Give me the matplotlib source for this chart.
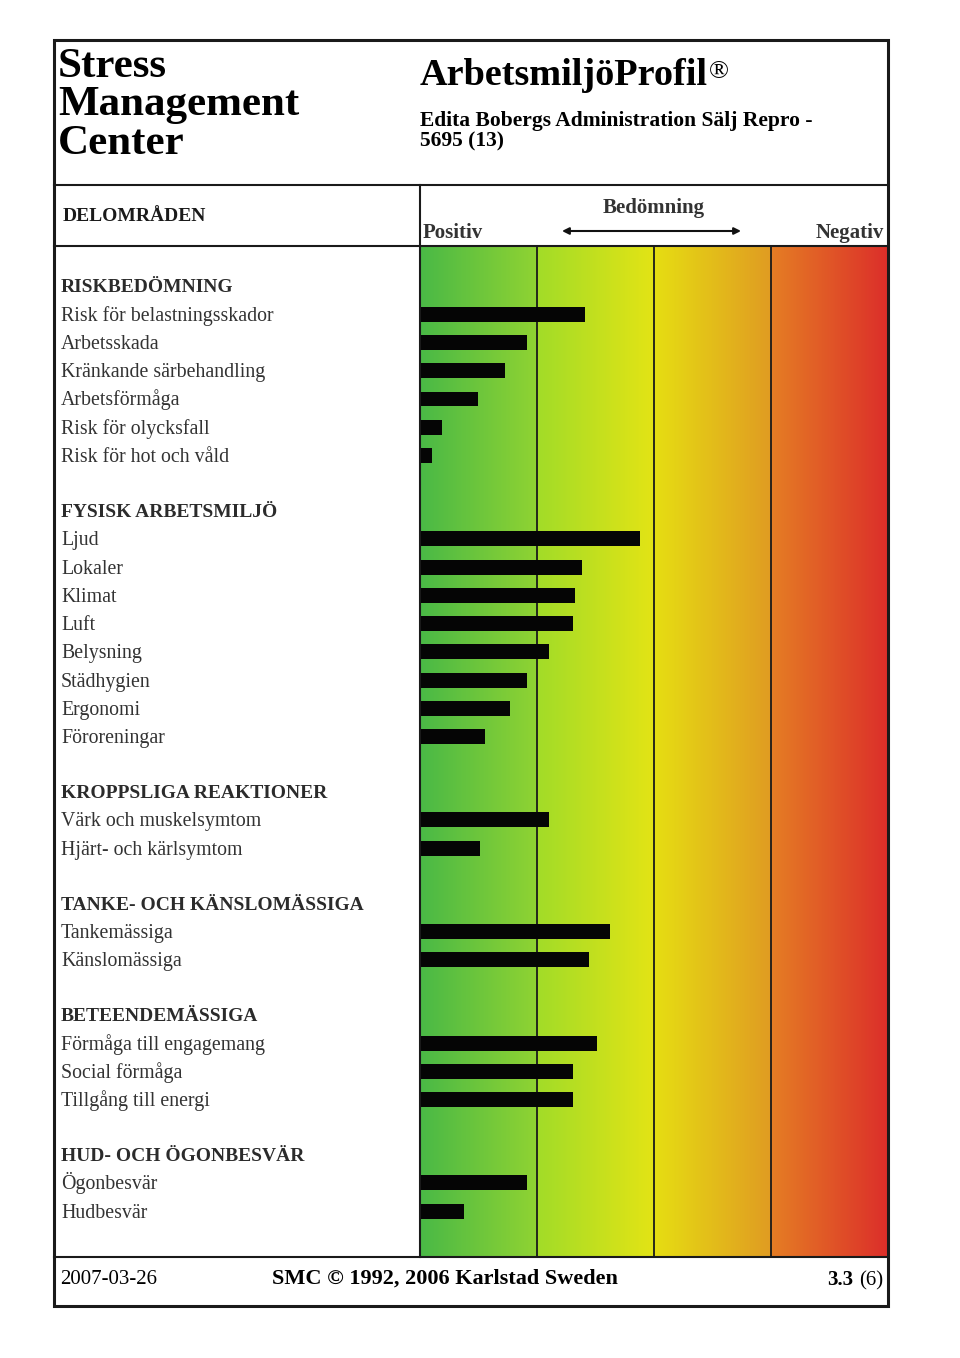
import numpy as np
import matplotlib
matplotlib.use("Agg")
import matplotlib.pyplot as plt
from matplotlib import transforms
from matplotlib.colors import LinearSegmentedColormap
from matplotlib.patches import Rectangle

plt.rcParams['font.family'] = ['Liberation Serif', 'DejaVu Serif']

# --- data (bar lengths in % of the scale, 0 = Positiv, 100 = Negativ) ---
section_titles = ["RISKBEDÖMNING", "FYSISK ARBETSMILJÖ", "KROPPSLIGA REAKTIONER",
                  "TANKE- OCH KÄNSLOMÄSSIGA", "BETEENDEMÄSSIGA", "HUD- OCH ÖGONBESVÄR"]

risk_labels = ["Risk för belastningsskador", "Arbetsskada", "Kränkande särbehandling",
               "Arbetsförmåga", "Risk för olycksfall", "Risk för hot och våld"]
risk_values = [35.3, 22.9, 18.2, 12.3, 4.8, 2.6]

fysisk_labels = ["Ljud", "Lokaler", "Klimat", "Luft", "Belysning", "Städhygien",
                 "Ergonomi", "Föroreningar"]
fysisk_values = [47.0, 34.6, 33.1, 32.6, 27.5, 22.9, 19.2, 13.9]

kropp_labels = ["Värk och muskelsymtom", "Hjärt- och kärlsymtom"]
kropp_values = [27.5, 12.8]

tanke_labels = ["Tankemässiga", "Känslomässiga"]
tanke_values = [40.7, 36.1]

beteende_labels = ["Förmåga till engagemang", "Social förmåga", "Tillgång till energi"]
beteende_values = [37.8, 32.6, 32.6]

hud_labels = ["Ögonbesvär", "Hudbesvär"]
hud_values = [22.9, 9.5]

zone_edges = [0, 25, 50, 75, 100]

report_date = "2007-03-26"
copyright_text = "SMC © 1992, 2006 Karlstad Sweden"
version = "3.3"
page = "(6)"
company = ["Stress", "Management", "Center"]
title = "ArbetsmiljöProfil"
subtitle = ["Edita Bobergs Administration Sälj Repro -", "5695 (13)"]

sections = [
    (section_titles[0], risk_labels, risk_values),
    (section_titles[1], fysisk_labels, fysisk_values),
    (section_titles[2], kropp_labels, kropp_values),
    (section_titles[3], tanke_labels, tanke_values),
    (section_titles[4], beteende_labels, beteende_values),
    (section_titles[5], hud_labels, hud_values),
]

# --- layout (pixels) ---
W, H = 960, 1358
L, R, T, B = 54, 888, 40, 1306
x_split = 420
y_head, y_top, y_foot = 185, 246, 1257
first_row_y = 286
row_px = 28.25
section_gap = 1.95

label_color = '#333333'

fig = plt.figure(figsize=(W / 100, H / 100), dpi=100)
fig.patch.set_facecolor('white')

frame = fig.add_axes([0, 0, 1, 1])
frame.set_xlim(0, W)
frame.set_ylim(H, 0)
frame.axis('off')
frame.set_zorder(3)
frame.patch.set_alpha(0)

chart = fig.add_axes([x_split / W, (H - y_foot) / H, (R - x_split) / W, (y_foot - y_top) / H])

# row positions (in rows, header of first section = 0)
header_pos, item_pos, item_lab, item_val = [], [], [], []
pos = 0.0
for name, labels, values in sections:
    header_pos.append((pos, name))
    for lab, val in zip(labels, values):
        pos += 1
        item_pos.append(pos)
        item_lab.append(lab)
        item_val.append(val)
    pos += section_gap

y_topv = -(first_row_y - y_top) / row_px
y_bottom = (y_foot - first_row_y) / row_px

# gradient background
cmap = LinearSegmentedColormap.from_list("bedomning", [
    (0.0, '#4ab946'), (0.249, '#90d332'),
    (0.251, '#a2dc28'), (0.499, '#e3e415'),
    (0.501, '#e6de12'), (0.749, '#e09c22'),
    (0.751, '#e57e24'), (1.0, '#dc2f2a')])
grad = np.linspace(0, 1, 800).reshape(1, -1)
chart.imshow(grad, cmap=cmap, aspect='auto', extent=[0, 100, y_bottom, y_topv],
             interpolation='bilinear', zorder=0)

for xv in zone_edges[1:-1]:
    chart.axvline(xv, color='#1a1a1a', lw=1.3, zorder=1)

chart.barh(item_pos, item_val, height=0.53, color='#050505', zorder=2)
chart.set_xlim(0, 100)
chart.set_ylim(y_bottom, y_topv)
chart.axis('off')

# row labels
trans = transforms.blended_transform_factory(frame.transData, chart.transData)
lbl_trans = transforms.offset_copy(trans, fig=fig, x=0, y=-6.5, units='dots')
for p, name in header_pos:
    frame.text(61, p, name, transform=lbl_trans, fontsize=14, fontweight='bold',
               color='#2b2b2b', va='baseline', ha='left')
for p, lab in zip(item_pos, item_lab):
    frame.text(61, p, lab, transform=lbl_trans, fontsize=14.3,
               color=label_color, va='baseline', ha='left')

# frame lines
frame.add_patch(Rectangle((L, T), R - L, B - T, fill=False, lw=2.2, ec='#1a1a1a'))
for yy in (y_head, y_top, y_foot):
    frame.plot([L, R], [yy, yy], color='#1a1a1a', lw=1.5)
frame.plot([x_split, x_split], [y_head, y_foot], color='#1a1a1a', lw=1.5)

# header texts
for txt, yb in zip(company, [77, 115, 154]):
    frame.text(58, yb, txt, fontsize=31, fontweight='bold', va='baseline', ha='left')
frame.text(420, 85, title, fontsize=27.5, fontweight='bold', va='baseline', ha='left')
frame.text(709, 78, "®", fontsize=19, va='baseline', ha='left')
frame.text(420, 126, subtitle[0], fontsize=15.5, fontweight='bold', va='baseline', ha='left')
frame.text(420, 146, subtitle[1], fontsize=15.5, fontweight='bold', va='baseline', ha='left')

frame.text(63, 221, "DELOMRÅDEN", fontsize=14, fontweight='bold', va='baseline',
           ha='left', color='#1a1a1a')
frame.text(654, 213, "Bedömning", fontsize=15, fontweight='bold', va='baseline',
           ha='center', color=label_color)
frame.text(423, 238, "Positiv", fontsize=15, fontweight='bold', va='baseline',
           ha='left', color=label_color)
frame.text(884, 238, "Negativ", fontsize=15, fontweight='bold', va='baseline',
           ha='right', color=label_color)
frame.annotate('', xy=(741, 231), xytext=(562, 231),
               arrowprops=dict(arrowstyle='<|-|>', color='#111111', lw=1.5,
                               mutation_scale=10, shrinkA=0, shrinkB=0))

# footer
frame.text(60, 1284, report_date, fontsize=15, va='baseline', ha='left')
frame.text(445, 1284, copyright_text, fontsize=16, fontweight='bold', va='baseline', ha='center')
frame.text(883, 1285, page, fontsize=15, va='baseline', ha='right')
frame.text(853, 1285, version, fontsize=15, fontweight='bold', va='baseline', ha='right')

fig.savefig("out.png", dpi=100, facecolor='white')
